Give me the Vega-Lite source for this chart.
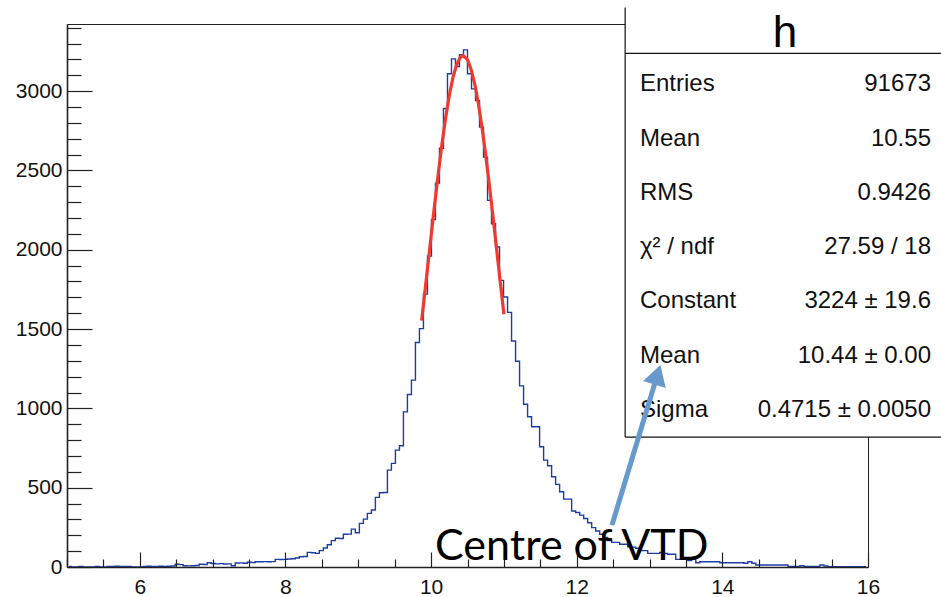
{
  "$schema": "https://vega.github.io/schema/vega-lite/v6.json",
  "width": 801,
  "height": 543,
  "autosize": {"type": "none"},
  "padding": {"left": 67, "top": 24, "right": 73, "bottom": 30},
  "background": "white",
  "config": {"view": {"stroke": "#222222", "strokeWidth": 1}, "axis": {"grid": false}},
  "datasets": {
    "hist": [
      {"x":5.0275,"y":3},{"x":5.0825,"y":0},{"x":5.1375,"y":0},{"x":5.1925,"y":3},{"x":5.2475,"y":0},
      {"x":5.3025,"y":0},{"x":5.3575,"y":0},{"x":5.4125,"y":3},{"x":5.4675,"y":0},{"x":5.5225,"y":0},
      {"x":5.5775,"y":4},{"x":5.6325,"y":3},{"x":5.6875,"y":5},{"x":5.7425,"y":4},{"x":5.7975,"y":3},
      {"x":5.8525,"y":4},{"x":5.9075,"y":0},{"x":5.9625,"y":0},{"x":6.0175,"y":0},{"x":6.0725,"y":4},
      {"x":6.1275,"y":5},{"x":6.1825,"y":3},{"x":6.2375,"y":4},{"x":6.2925,"y":5},{"x":6.3475,"y":4},
      {"x":6.4025,"y":5},{"x":6.4575,"y":6},{"x":6.5125,"y":17},{"x":6.5675,"y":15},{"x":6.6225,"y":8},
      {"x":6.6775,"y":7},{"x":6.7325,"y":8},{"x":6.7875,"y":9},{"x":6.8425,"y":17},{"x":6.8975,"y":16},
      {"x":6.9525,"y":27},{"x":7.0075,"y":22},{"x":7.0625,"y":20},{"x":7.1175,"y":21},{"x":7.1725,"y":19},
      {"x":7.2275,"y":20},{"x":7.2825,"y":8},{"x":7.3375,"y":25},{"x":7.3925,"y":26},{"x":7.4475,"y":24},
      {"x":7.5025,"y":30},{"x":7.5575,"y":28},{"x":7.6125,"y":33},{"x":7.6675,"y":33},{"x":7.7225,"y":34},
      {"x":7.7775,"y":33},{"x":7.8325,"y":34},{"x":7.8875,"y":48},{"x":7.9425,"y":47},{"x":7.9975,"y":48},
      {"x":8.0525,"y":50},{"x":8.1075,"y":52},{"x":8.1625,"y":57},{"x":8.2175,"y":65},{"x":8.2725,"y":66},
      {"x":8.3275,"y":92},{"x":8.3825,"y":90},{"x":8.4375,"y":86},{"x":8.4925,"y":103},{"x":8.5475,"y":120},
      {"x":8.6025,"y":140},{"x":8.6575,"y":166},{"x":8.7125,"y":181},{"x":8.7675,"y":180},{"x":8.8225,"y":206},
      {"x":8.8775,"y":207},{"x":8.9325,"y":239},{"x":8.9875,"y":216},{"x":9.0425,"y":275},{"x":9.0975,"y":302},
      {"x":9.1525,"y":338},{"x":9.2075,"y":359},{"x":9.2625,"y":439},{"x":9.3175,"y":468},{"x":9.3725,"y":470},
      {"x":9.4275,"y":611},{"x":9.4825,"y":653},{"x":9.5375,"y":737},{"x":9.5925,"y":764},{"x":9.6475,"y":978},
      {"x":9.7025,"y":1087},{"x":9.7575,"y":1178},{"x":9.8125,"y":1415},{"x":9.8675,"y":1503},{"x":9.9225,"y":1720},
      {"x":9.9775,"y":1960},{"x":10.0325,"y":2190},{"x":10.0875,"y":2420},{"x":10.1425,"y":2640},{"x":10.1975,"y":2890},
      {"x":10.2525,"y":3109},{"x":10.3075,"y":3203},{"x":10.3625,"y":3155},{"x":10.4175,"y":3230},{"x":10.4725,"y":3260},
      {"x":10.5275,"y":3109},{"x":10.5825,"y":3014},{"x":10.6375,"y":2941},{"x":10.6925,"y":2773},{"x":10.7475,"y":2584},
      {"x":10.8025,"y":2311},{"x":10.8575,"y":2164},{"x":10.9125,"y":2017},{"x":10.9675,"y":1807},{"x":11.0225,"y":1702},
      {"x":11.0775,"y":1605},{"x":11.1325,"y":1425},{"x":11.1875,"y":1297},{"x":11.2425,"y":1142},{"x":11.2975,"y":1026},
      {"x":11.3525,"y":947},{"x":11.4075,"y":884},{"x":11.4625,"y":884},{"x":11.5175,"y":758},{"x":11.5725,"y":674},
      {"x":11.6275,"y":638},{"x":11.6825,"y":569},{"x":11.7375,"y":521},{"x":11.7925,"y":474},{"x":11.8475,"y":428},
      {"x":11.9025,"y":428},{"x":11.9575,"y":353},{"x":12.0125,"y":344},{"x":12.0675,"y":327},{"x":12.1225,"y":306},
      {"x":12.1775,"y":279},{"x":12.2325,"y":248},{"x":12.2875,"y":227},{"x":12.3425,"y":206},{"x":12.3975,"y":187},
      {"x":12.4525,"y":166},{"x":12.5075,"y":155},{"x":12.5625,"y":155},{"x":12.6175,"y":143},{"x":12.6725,"y":143},
      {"x":12.7275,"y":128},{"x":12.7825,"y":125},{"x":12.8375,"y":118},{"x":12.8925,"y":103},{"x":12.9475,"y":103},
      {"x":13.0025,"y":86},{"x":13.0575,"y":86},{"x":13.1125,"y":86},{"x":13.1675,"y":92},{"x":13.2225,"y":85},
      {"x":13.2775,"y":80},{"x":13.3325,"y":80},{"x":13.3875,"y":48},{"x":13.4425,"y":48},{"x":13.4975,"y":48},
      {"x":13.5525,"y":40},{"x":13.6075,"y":48},{"x":13.6625,"y":27},{"x":13.7175,"y":33},{"x":13.7725,"y":33},
      {"x":13.8275,"y":33},{"x":13.8825,"y":33},{"x":13.9375,"y":33},{"x":13.9925,"y":27},{"x":14.0475,"y":27},
      {"x":14.1025,"y":27},{"x":14.1575,"y":27},{"x":14.2125,"y":27},{"x":14.2675,"y":27},{"x":14.3225,"y":24},
      {"x":14.3775,"y":33},{"x":14.4325,"y":24},{"x":14.4875,"y":13},{"x":14.5425,"y":13},{"x":14.5975,"y":13},
      {"x":14.6525,"y":13},{"x":14.7075,"y":13},{"x":14.7625,"y":13},{"x":14.8175,"y":13},{"x":14.8725,"y":13},
      {"x":14.9275,"y":3},{"x":14.9825,"y":3},{"x":15.0375,"y":3},{"x":15.0925,"y":8},{"x":15.1475,"y":3},
      {"x":15.2025,"y":3},{"x":15.2575,"y":3},{"x":15.3125,"y":3},{"x":15.3675,"y":13},{"x":15.4225,"y":6},
      {"x":15.4775,"y":2},{"x":15.5325,"y":2},{"x":15.5875,"y":2},{"x":15.6425,"y":2},{"x":15.6975,"y":2},
      {"x":15.7525,"y":2},{"x":15.8075,"y":2},{"x":15.8625,"y":2},{"x":15.9175,"y":2},{"x":15.9725,"y":2}
    ],
    "fit": [
      {"x":9.87,"y":1553},{"x":9.9,"y":1673},{"x":9.95,"y":1879},{"x":10.0,"y":2086},{"x":10.05,"y":2290},
      {"x":10.1,"y":2486},{"x":10.15,"y":2668},{"x":10.2,"y":2832},{"x":10.25,"y":2973},{"x":10.3,"y":3085},
      {"x":10.35,"y":3166},{"x":10.4,"y":3212},{"x":10.44,"y":3224},{"x":10.5,"y":3198},{"x":10.55,"y":3137},
      {"x":10.6,"y":3043},{"x":10.65,"y":2920},{"x":10.7,"y":2769},{"x":10.75,"y":2597},{"x":10.8,"y":2409},
      {"x":10.85,"y":2209},{"x":10.9,"y":2003},{"x":10.95,"y":1796},{"x":11.0,"y":1593}
    ],
    "boxfill": [{"x":12.665,"x2":17.3,"y":818.8,"y2":3700}],
    "boxlines": [
      {"x":12.665,"x2":12.665,"y":818.8,"y2":3527},
      {"x":12.665,"x2":17.3,"y":3237.4,"y2":3237.4},
      {"x":12.665,"x2":17.3,"y":818.8,"y2":818.8}
    ],
    "title": [{"x":14.86,"y":3277,"text":"h"}],
    "stats": [
      {"label":"Entries","value":"91673","y":3000},
      {"label":"Mean","value":"10.55","y":2657},
      {"label":"RMS","value":"0.9426","y":2315},
      {"label":"χ² / ndf","value":"27.59 / 18","y":1972},
      {"label":"Constant","value":"3224 ± 19.6","y":1630},
      {"label":"Mean","value":"10.44 ± 0.00","y":1287},
      {"label":"Sigma","value":"0.4715 ± 0.0050","y":944}
    ],
    "note": [{"x":10.054,"y":44,"text":"Centre of VTD"}],
    "arrow": [{"x":12.484,"y":264},{"x":13.108,"y":1212}],
    "head": [{"x":13.108,"y":1212}]
  },
  "layer": [
    {
      "data": {"name": "hist"},
      "mark": {"type": "line", "interpolate": "step", "color": "#1c3ca6", "strokeWidth": 1.4},
      "encoding": {
        "x": {
          "field": "x", "type": "quantitative",
          "scale": {"domain": [5, 16], "nice": false, "zero": false},
          "axis": {
            "title": null,
            "values": [5,5.5,6,6.5,7,7.5,8,8.5,9,9.5,10,10.5,11,11.5,12,12.5,13,13.5,14,14.5,15,15.5,16],
            "tickCount": 200,
            "tickSize": {"condition": {"test": "datum.value % 2 === 0", "value": -15}, "value": -8},
            "tickColor": "#222222", "tickWidth": 1.2, "domainColor": "#222222", "domainWidth": 1.3,
            "labelExpr": "datum.value % 2 === 0 ? format(datum.value, 'd') : ''",
            "labelFont": "Liberation Sans", "labelFontSize": 21, "labelColor": "#111111",
            "labelPadding": 24, "labelFlush": false, "labelOverlap": false, "zindex": 1
          }
        },
        "y": {
          "field": "y", "type": "quantitative",
          "scale": {"domain": [0, 3423], "nice": false, "zero": true},
          "axis": {
            "title": null,
            "values": [0,100,200,300,400,500,600,700,800,900,1000,1100,1200,1300,1400,1500,1600,1700,1800,1900,2000,2100,2200,2300,2400,2500,2600,2700,2800,2900,3000,3100,3200,3300,3400],
            "tickCount": 200,
            "tickSize": {"condition": {"test": "datum.value % 500 === 0", "value": -25}, "value": -14},
            "tickColor": "#222222", "tickWidth": 1.2, "domainColor": "#222222", "domainWidth": 1.6,
            "labelExpr": "datum.value % 500 === 0 ? format(datum.value, 'd') : ''",
            "labelFont": "Liberation Sans", "labelFontSize": 21, "labelColor": "#111111",
            "labelPadding": 30, "labelOverlap": false, "zindex": 1
          }
        }
      }
    },
    {
      "data": {"name": "fit"},
      "mark": {"type": "line", "color": "#f03a2e", "strokeWidth": 3.2},
      "encoding": {"x": {"field": "x", "type": "quantitative"}, "y": {"field": "y", "type": "quantitative"}}
    },
    {
      "data": {"name": "boxfill"},
      "mark": {"type": "rect", "fill": "white", "stroke": null},
      "encoding": {
        "x": {"field": "x", "type": "quantitative"}, "x2": {"field": "x2"},
        "y": {"field": "y", "type": "quantitative"}, "y2": {"field": "y2"}
      }
    },
    {
      "data": {"name": "boxlines"},
      "mark": {"type": "rule", "color": "#111111", "strokeWidth": 1.2},
      "encoding": {
        "x": {"field": "x", "type": "quantitative"}, "x2": {"field": "x2"},
        "y": {"field": "y", "type": "quantitative"}, "y2": {"field": "y2"}
      }
    },
    {
      "data": {"name": "title"},
      "mark": {"type": "text", "font": "Liberation Sans", "fontSize": 44, "align": "center", "baseline": "alphabetic", "color": "#000000"},
      "encoding": {"x": {"field": "x", "type": "quantitative"}, "y": {"field": "y", "type": "quantitative"}, "text": {"field": "text"}}
    },
    {
      "data": {"name": "stats"},
      "mark": {"type": "text", "font": "Liberation Sans", "fontSize": 24, "align": "left", "baseline": "alphabetic", "color": "#111111"},
      "encoding": {"x": {"datum": 12.869, "type": "quantitative"}, "y": {"field": "y", "type": "quantitative"}, "text": {"field": "label"}}
    },
    {
      "data": {"name": "stats"},
      "mark": {"type": "text", "font": "Liberation Sans", "fontSize": 24, "align": "right", "baseline": "alphabetic", "color": "#111111"},
      "encoding": {"x": {"datum": 16.865, "type": "quantitative"}, "y": {"field": "y", "type": "quantitative"}, "text": {"field": "value"}}
    },
    {
      "data": {"name": "note"},
      "mark": {"type": "text", "font": "Lato", "fontSize": 43, "align": "left", "baseline": "alphabetic", "color": "#000000"},
      "encoding": {"x": {"field": "x", "type": "quantitative"}, "y": {"field": "y", "type": "quantitative"}, "text": {"field": "text"}}
    },
    {
      "data": {"name": "arrow"},
      "mark": {"type": "line", "color": "#6699cc", "strokeWidth": 5},
      "encoding": {"x": {"field": "x", "type": "quantitative"}, "y": {"field": "y", "type": "quantitative"}}
    },
    {
      "data": {"name": "head"},
      "mark": {"type": "point", "shape": "triangle-up", "filled": true, "color": "#6699cc", "size": 560, "angle": 17, "opacity": 1},
      "encoding": {"x": {"field": "x", "type": "quantitative"}, "y": {"field": "y", "type": "quantitative"}}
    }
  ]
}
